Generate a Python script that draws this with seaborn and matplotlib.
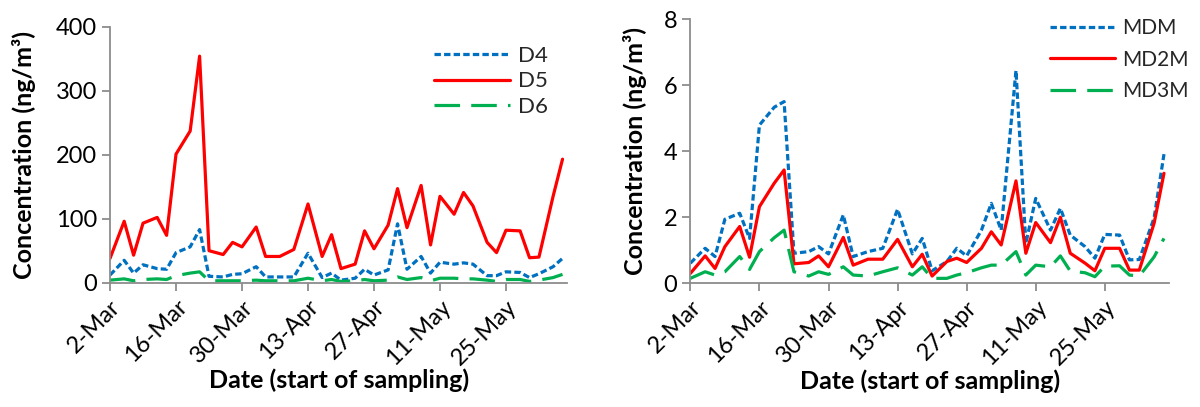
import matplotlib
matplotlib.use("Agg")
import matplotlib.pyplot as plt
import matplotlib.dates as mdates
import seaborn as sns
import pandas as pd

sample_dates = ["2012-03-02", "2012-03-05", "2012-03-07", "2012-03-09", "2012-03-12",
                "2012-03-14", "2012-03-16", "2012-03-19", "2012-03-21", "2012-03-23",
                "2012-03-26", "2012-03-28", "2012-03-30", "2012-04-02", "2012-04-04",
                "2012-04-07", "2012-04-10", "2012-04-13", "2012-04-16", "2012-04-18",
                "2012-04-20", "2012-04-23", "2012-04-25", "2012-04-27", "2012-04-30",
                "2012-05-02", "2012-05-04", "2012-05-07", "2012-05-09", "2012-05-11",
                "2012-05-14", "2012-05-16", "2012-05-18", "2012-05-21", "2012-05-23",
                "2012-05-25", "2012-05-28", "2012-05-30", "2012-06-01", "2012-06-04",
                "2012-06-06"]

D4 = [12, 35, 15, 28, 22, 21, 47, 56, 83, 10, 9, 13, 14, 25, 9, 9, 9, 46, 8, 15,
      4, 7, 21, 12, 20, 92, 21, 41, 15, 32, 29, 31, 29, 11, 11, 17, 16, 8, 14, 25, 38]
D5 = [38, 96, 43, 93, 102, 74, 201, 237, 354, 50, 44, 63, 56, 87, 41, 41, 52, 123, 41, 75,
      22, 29, 81, 53, 90, 147, 86, 152, 59, 135, 107, 141, 120, 63, 47, 82, 81, 39, 40, 135, 193]
D6 = [4, 6, 3, 5, 6, 5, 11, 15, 17, 3, 3, 3, 3, 4, 3, 3, 3, 7, 3, 5,
      2, 3, 5, 3, 4, 9, 5, 8, 3, 7, 7, 6, 6, 4, 2, 5, 5, 2, 4, 8, 13]

MDM = [0.61, 1.06, 0.81, 1.94, 2.12, 1.36, 4.79, 5.33, 5.50, 0.91, 0.96, 1.11, 0.89, 2.07,
       0.81, 0.96, 1.06, 2.24, 0.89, 1.36, 0.38, 0.66, 1.06, 0.83, 1.61, 2.42, 1.61, 6.44,
       1.21, 2.57, 1.61, 2.27, 1.46, 1.11, 0.76, 1.48, 1.46, 0.71, 0.72, 1.98, 3.91]
MD2M = [0.30, 0.83, 0.45, 1.11, 1.72, 0.79, 2.32, 3.03, 3.43, 0.59, 0.63, 0.83, 0.50, 1.39,
        0.55, 0.73, 0.73, 1.33, 0.50, 0.88, 0.22, 0.66, 0.76, 0.63, 1.06, 1.56, 1.16, 3.10,
        0.91, 1.84, 1.23, 2.00, 0.91, 0.61, 0.38, 1.06, 1.06, 0.40, 0.40, 1.82, 3.33]
MD3M = [0.15, 0.35, 0.25, 0.35, 0.81, 0.42, 0.96, 1.38, 1.61, 0.35, 0.22, 0.35, 0.27, 0.50,
        0.25, 0.22, 0.35, 0.47, 0.25, 0.50, 0.15, 0.15, 0.25, 0.32, 0.47, 0.55, 0.55, 0.96,
        0.25, 0.55, 0.50, 0.83, 0.37, 0.32, 0.20, 0.52, 0.53, 0.25, 0.22, 0.80, 1.36]

left_labels = ["D4", "D5", "D6"]
right_labels = ["MDM", "MD2M", "MD3M"]
y_label = "Concentration (ng/m³)"
x_label = "Date (start of sampling)"

sns.set_theme(style="white")
plt.rcParams["font.family"] = ["Lato", "DejaVu Sans"]

dates = pd.to_datetime(sample_dates)
colors = ["#0070C0", "#FF0000", "#00B050"]
dash_styles = [(0, (2.0, 1.0)), "-", (0, (8, 3.5))]
lw = 2.3

fig = plt.figure(figsize=(12, 4.07), dpi=100)
ax1 = fig.add_axes([0.0917, 0.3054, 0.381, 0.629])
ax2 = fig.add_axes([0.5753, 0.3039, 0.3988, 0.6494])

def draw(ax, series, labels, ymax, ystep, legend_anchor, ylabelpad, handlelen, lspace, lfs):
    for vals, lab, col, ls in zip(series, labels, colors, dash_styles):
        df = pd.DataFrame({"date": dates, "value": vals})
        sns.lineplot(data=df, x="date", y="value", ax=ax, color=col,
                     linestyle=ls, linewidth=lw, label=lab)
    start = dates[0]
    ax.set_xlim(start, start + pd.Timedelta(days=97))
    ax.set_ylim(0, ymax)
    ax.set_yticks([i * ystep for i in range(int(round(ymax / ystep)) + 1)])
    ticks = [start + pd.Timedelta(days=14 * i) for i in range(7)]
    ax.set_xticks(ticks)
    ax.xaxis.set_major_formatter(mdates.DateFormatter("%-d-%b"))
    for s in ["top", "right"]:
        ax.spines[s].set_visible(False)
    for s in ["left", "bottom"]:
        ax.spines[s].set_color("#8c8c8c")
        ax.spines[s].set_linewidth(1.3)
    ax.tick_params(axis="both", which="major", direction="out", length=6,
                   width=1.3, color="#8c8c8c", labelsize=17, labelcolor="black",
                   left=True, bottom=True)
    plt.setp(ax.get_xticklabels(), rotation=45, ha="right", rotation_mode="anchor")
    ax.set_ylabel(y_label, fontsize=18, fontweight="bold", color="black",
                  labelpad=ylabelpad)
    ax.set_xlabel(x_label, fontsize=18, fontweight="bold", color="black", labelpad=0)
    ax.grid(False)
    leg = ax.legend(loc="upper left", bbox_to_anchor=legend_anchor, frameon=False,
                    fontsize=lfs, handlelength=handlelen, handletextpad=0.35,
                    labelspacing=lspace, borderaxespad=0)
    return leg

draw(ax1, [D4, D5, D6], left_labels, 400, 100, (0.69, 0.96), 14, 3.4, 0.25, 16)
draw(ax2, [MDM, MD2M, MD3M], right_labels, 8, 2, (0.735, 1.035), 12, 3.1, 0.55, 15)

fig.savefig("out.png", dpi=100)
